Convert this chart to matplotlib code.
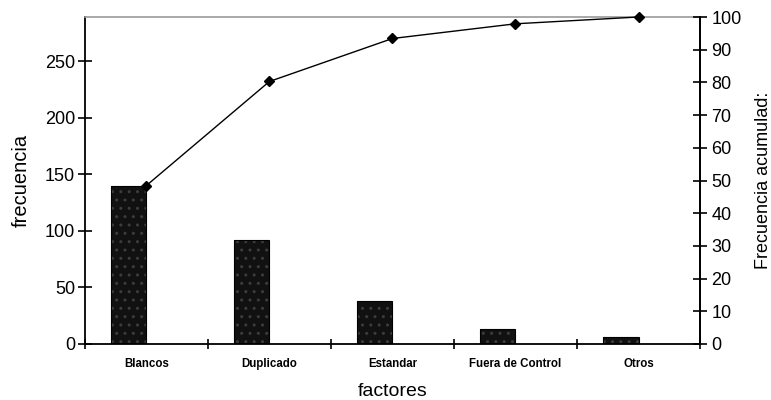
import matplotlib
matplotlib.use("Agg")
import matplotlib.pyplot as plt
import numpy as np
from matplotlib.ticker import FixedLocator, NullFormatter

categories = ["Blancos", "Duplicado", "Estandar", "Fuera de Control", "Otros"]
frecuencia = [140, 92, 38, 13, 6]
left_ticks = [0, 50, 100, 150, 200, 250]
right_ticks = [0, 10, 20, 30, 40, 50, 60, 70, 80, 90, 100]

total = sum(frecuencia)
acumulada = np.cumsum(frecuencia) / total * 100

plt.rcParams["font.family"] = ["Liberation Sans", "DejaVu Sans"]

fig = plt.figure(figsize=(7.71, 4.00), dpi=100)
ax = fig.add_axes([0.110, 0.14, 0.798, 0.8175])

x = np.arange(len(categories))
bar_w = 0.285

# stippled dark bars, left slot of each category
ax.bar(x - bar_w / 2, frecuencia, width=bar_w, facecolor="#111111",
       edgecolor="#3c3c3c", hatch="..", linewidth=0, zorder=2)
ax.bar(x - bar_w / 2, frecuencia, width=bar_w, facecolor="none",
       edgecolor="black", linewidth=0.8, zorder=3)

ax.set_xlim(-0.5, len(categories) - 0.5)
ax.set_ylim(0, total)
ax.set_yticks(left_ticks)
ax.tick_params(axis="y", direction="inout", length=10, width=1.2,
               labelsize=13, pad=2)

ax.set_xticks(x)
ax.set_xticklabels(categories, fontsize=8.3, fontweight="bold")
ax.tick_params(axis="x", which="major", length=0, pad=10)
ax.xaxis.set_minor_locator(FixedLocator(np.arange(-0.5, len(categories), 1.0)))
ax.xaxis.set_minor_formatter(NullFormatter())
ax.tick_params(axis="x", which="minor", direction="inout", length=7, width=1.2)

for side in ("left", "bottom", "right"):
    ax.spines[side].set_linewidth(1.3)
ax.spines["top"].set_color("#9a9a9a")
ax.spines["top"].set_linewidth(1.2)

ax.set_ylabel("frecuencia", fontsize=14.5, labelpad=10)
ax.set_xlabel("factores", fontsize=14, labelpad=9.5)

# cumulative percentage on the secondary axis
ax2 = ax.twinx()
ax2.set_ylim(0, 100)
ax2.set_yticks(right_ticks)
ax2.plot(x, acumulada, color="black", linewidth=1.0, marker="D",
         markersize=5.5, zorder=4, clip_on=False)
ax2.tick_params(axis="y", direction="inout", length=10, width=1.2,
                labelsize=13, pad=3)
for side in ("left", "bottom", "top"):
    ax2.spines[side].set_visible(False)
ax2.spines["right"].set_linewidth(1.3)
ax2.set_ylabel("Frecuencia acumulad:", fontsize=13, labelpad=10)

fig.savefig("out.png", dpi=100)
